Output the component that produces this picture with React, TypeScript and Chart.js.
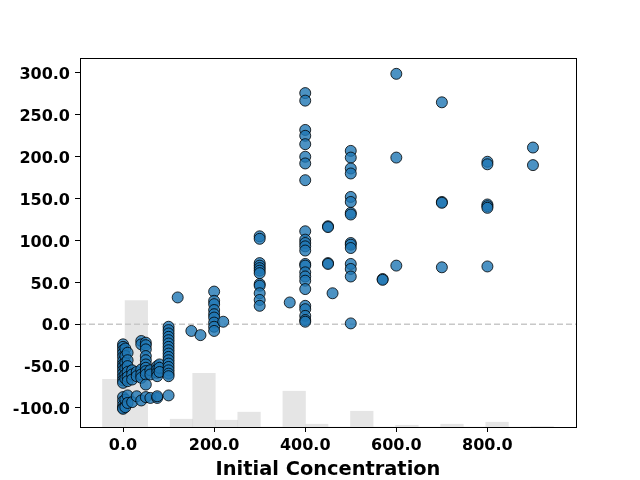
import { useEffect, useRef } from "react";
import { Chart, registerables } from "chart.js";

Chart.register(...registerables);

// Scatter data: each concentration group with its measured responses
const groupConcentrations: number[] = [
  0, 5, 10, 20, 30, 40, 50, 60, 75, 80, 100,
  120, 150, 170, 200, 220, 300, 366, 400, 450, 460, 500, 570, 600, 700, 800, 900,
];
const groupResponses: number[][] = [
  [-24, -27, -31, -35, -39, -44, -48, -51, -55, -59, -63, -67, -70, -87, -92, -97, -100, -101],
  [-29, -38, -46, -53, -60, -65, -90, -99],
  [-34, -43, -50, -57, -63, -68, -85, -94],
  [-55, -60, -66, -93],
  [-57, -62, -86],
  [-20, -24, -54, -60, -64, -91],
  [-22, -25, -30, -38, -43, -48, -52, -56, -60, -72, -87],
  [-55, -60, -88],
  [-50, -54, -58, -62, -88, -86],
  [-48, -52, -57],
  [-3, -7, -11, -15, -19, -23, -27, -31, -35, -39, -43, -47, -51, -55, -59, -62, -85],
  [32],
  [-8],
  [-13],
  [39, 28, 24, 17, 12, 8, 2, -3, -8],
  [3],
  [105, 102, 73, 70, 67, 64, 61, 48, 46, 37, 29, 22],
  [26],
  [276, 267, 232, 225, 215, 200, 192, 172, 111, 101, 97, 93, 88, 72, 70, 62, 57, 52, 42, 22, 18, 10, 5, 3],
  [117, 116, 73, 72],
  [37],
  [207, 199, 186, 180, 152, 146, 133, 131, 97, 95, 91, 72, 66, 57, 1],
  [54, 53],
  [299, 199, 70],
  [265, 146, 145, 68],
  [194, 191, 143, 141, 139, 69],
  [211, 190],
];

// Background histogram of concentrations (bin centres, bar heights above axis floor)
const histCenters: number[] = [
  -20.25, 29.25, 78.75, 128.25, 177.75, 227.25, 276.75, 326.25, 375.75, 425.25,
  474.75, 524.25, 573.75, 623.25, 672.75, 722.25, 771.75, 821.25, 870.75, 920.25,
];
const histHeights: number[] = [
  57, 151, 0, 9.3, 64, 8.1, 17.7, 0, 42.7, 3.3,
  0, 18.8, 0, 2.1, 0, 3.3, 0, 5.7, 0, 0.6,
];

const xTicks: number[] = [0, 200, 400, 600, 800];
const yTicks: number[] = [-100, -50, 0, 50, 100, 150, 200, 250, 300];

const X_MIN = -94.5;
const X_MAX = 994.5;
const Y_MIN = -122.7;
const Y_MAX = 317.9;

const FONT = "DejaVu Sans";

const framePlugin = {
  id: "frame",
  afterDatasetsDraw(chart: any) {
    const { ctx, chartArea } = chart;
    ctx.save();
    ctx.strokeStyle = "#000";
    ctx.lineWidth = 1;
    const l = Math.round(chartArea.left) + 0.5;
    const t = Math.round(chartArea.top) + 0.5;
    const r = Math.round(chartArea.right) + 0.5;
    const b = Math.round(chartArea.bottom) + 0.5;
    ctx.strokeRect(l, t, r - l, b - t);
    ctx.restore();
  },
};

export default function App() {
  const ref = useRef<HTMLCanvasElement | null>(null);

  useEffect(() => {
    if (!ref.current) return;
    const points: { x: number; y: number }[] = [];
    groupConcentrations.forEach((c, i) => {
      groupResponses[i].forEach((v) => points.push({ x: c, y: v }));
    });
    const bars = histCenters.map((c, i) => ({ x: c, y: [Y_MIN, Y_MIN + histHeights[i]] }));

    const tickFont = { family: FONT, size: 16, weight: "bold" as const };

    const chart = new Chart(ref.current, {
      type: "scatter",
      data: {
        datasets: [
          {
            type: "scatter",
            label: "points",
            data: points,
            backgroundColor: "rgba(31,119,180,0.8)",
            borderColor: "rgba(0,0,0,0.8)",
            borderWidth: 1,
            pointRadius: 5.5,
            pointHoverRadius: 5.5,
            order: 0,
          } as any,
          {
            type: "line",
            label: "zero",
            data: [
              { x: X_MIN, y: 0 },
              { x: X_MAX, y: 0 },
            ],
            borderColor: "rgba(200,200,200,1)",
            borderWidth: 1.5,
            borderDash: [6, 3],
            pointRadius: 0,
            order: 1,
          } as any,
          {
            type: "bar",
            label: "hist",
            data: bars,
            backgroundColor: "rgba(211,211,211,0.6)",
            borderWidth: 0,
            barPercentage: 1,
            categoryPercentage: 1,
            grouped: false,
            order: 2,
          } as any,
        ],
      },
      options: {
        animation: false,
        responsive: false,
        devicePixelRatio: 1,
        layout: { padding: { left: 0, right: 64, top: 58, bottom: 0 } },
        plugins: { legend: { display: false }, tooltip: { enabled: false } },
        scales: {
          x: {
            type: "linear",
            offset: false,
            min: X_MIN,
            max: X_MAX,
            afterBuildTicks: (s: any) => {
              s.ticks = xTicks.map((v) => ({ value: v }));
            },
            afterFit: (s: any) => {
              s.height = 53;
            },
            ticks: {
              callback: (v: any) => Number(v).toFixed(1),
              font: tickFont,
              color: "#000",
              padding: 4,
              maxRotation: 0,
              autoSkip: false,
            },
            grid: {
              offset: false,
              drawOnChartArea: false,
              drawTicks: true,
              tickLength: 5,
              tickColor: "#000",
              tickWidth: 1,
            },
            border: { display: false },
            title: {
              display: true,
              text: "Initial Concentration",
              font: { family: FONT, size: 19.4, weight: "bold" },
              color: "#000",
              padding: { top: 0, bottom: -2 },
            },
          },
          y: {
            type: "linear",
            min: Y_MIN,
            max: Y_MAX,
            afterBuildTicks: (s: any) => {
              s.ticks = yTicks.map((v) => ({ value: v }));
            },
            afterFit: (s: any) => {
              s.width = 80;
            },
            ticks: {
              callback: (v: any) => Number(v).toFixed(1),
              font: tickFont,
              color: "#000",
              padding: 5,
              labelOffset: 2,
              autoSkip: false,
            },
            grid: {
              drawOnChartArea: false,
              drawTicks: true,
              tickLength: 5,
              tickColor: "#000",
              tickWidth: 1,
            },
            border: { display: false },
          },
        },
      },
      plugins: [framePlugin],
    });
    return () => chart.destroy();
  }, []);

  return (
    <div style={{ position: "fixed", left: 0, top: 0, width: 640, height: 480, background: "#fff" }}>
      <canvas ref={ref} width={640} height={480} style={{ width: 640, height: 480 }} />
    </div>
  );
}
